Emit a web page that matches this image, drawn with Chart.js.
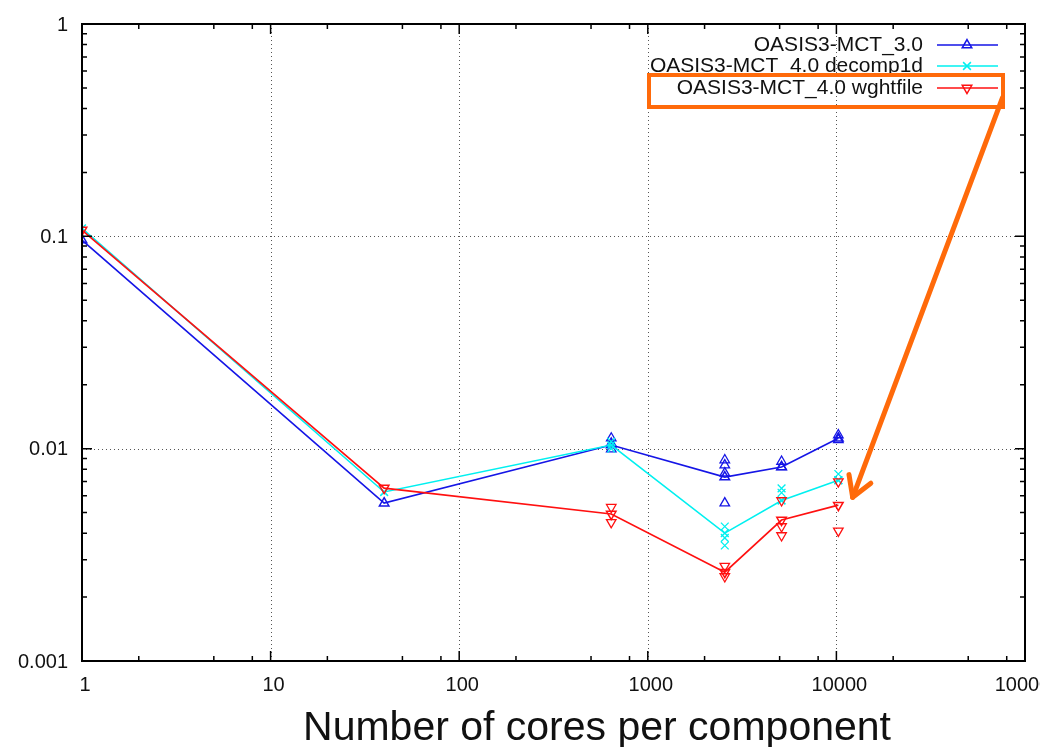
<!DOCTYPE html>
<html><head><meta charset="utf-8">
<script src="https://cdn.jsdelivr.net/npm/chart.js@4/dist/chart.umd.min.js"></script>
<style>html,body{margin:0;padding:0;background:#fff}canvas{display:block}</style>
</head><body>
<canvas id="c" width="1040" height="747"></canvas>
<script>
// ---- data ----
const cores = [1, 40, 640, 2560, 5120, 10240];
const seriesNames = ['OASIS3-MCT_3.0', 'OASIS3-MCT_4.0 decomp1d', 'OASIS3-MCT_4.0 wghtfile'];
const mct30 = [0.096, 0.00554, 0.0104, 0.00735, 0.00819, 0.0112];
const decomp1d = [0.109, 0.00625, 0.0104, 0.0040, 0.0057, 0.0071];
const wghtfile = [0.107, 0.00652, 0.00492, 0.00262, 0.00461, 0.00542];
// individual runs (extra points around the mean lines)
const mct30RunsX = [640, 640, 640, 2560, 2560, 2560, 2560, 5120, 5120, 10240, 10240];
const mct30RunsY = [0.0112, 0.0106, 0.00995, 0.00884, 0.00837, 0.00767, 0.00554, 0.0087, 0.0082, 0.0116, 0.0110];
const decompRunsX = [640, 640, 2560, 2560, 2560, 5120, 5120, 10240, 10240];
const decompRunsY = [0.0108, 0.0100, 0.0043, 0.0038, 0.0035, 0.0065, 0.0062, 0.0076, 0.0071];
const wghtRunsX = [640, 640, 2560, 2560, 5120, 5120, 5120, 10240, 10240];
const wghtRunsY = [0.0053, 0.0045, 0.0028, 0.0025, 0.0057, 0.0043, 0.0039, 0.0070, 0.0041];
const xTicks = [1, 10, 100, 1000, 10000, 100000];
const xTickLabels = ['1', '10', '100', '1000', '10000', '100000'];
const yTicks = [0.001, 0.01, 0.1, 1];
const yTickLabels = ['0.001', '0.01', '0.1', '1'];
const xTitle = 'Number of cores per component';

const colors = ['#1515e6', '#00f0f0', '#ff1010'];
const styles = [{s:'triangle', r:0}, {s:'crossRot', r:0}, {s:'triangle', r:180}];
const mains = [mct30, decomp1d, wghtfile];
const runsX = [mct30RunsX, decompRunsX, wghtRunsX];
const runsY = [mct30RunsY, decompRunsY, wghtRunsY];

const datasets = [];
for (let i = 0; i < 3; i++) {
  datasets.push({
    label: seriesNames[i],
    data: cores.map((x, k) => ({x, y: mains[i][k]})),
    borderColor: colors[i], backgroundColor: 'rgba(0,0,0,0)',
    borderWidth: 1.6, pointStyle: styles[i].s, pointRotation: styles[i].r,
    pointRadius: 5.5, pointBorderWidth: 1.5, pointBorderColor: colors[i],
    pointBackgroundColor: 'rgba(0,0,0,0)', tension: 0, order: 3 - i
  });
  datasets.push({
    label: seriesNames[i] + ' runs',
    data: runsX[i].map((x, k) => ({x, y: runsY[i][k]})),
    showLine: false, borderColor: colors[i], backgroundColor: 'rgba(0,0,0,0)',
    pointStyle: styles[i].s, pointRotation: styles[i].r,
    pointRadius: 5.5, pointBorderWidth: 1.3, pointBorderColor: colors[i],
    pointBackgroundColor: 'rgba(0,0,0,0)', order: 3 - i
  });
}

const FONT = '"Liberation Sans", Arial, sans-serif';

const frame = {
  id: 'frame',
  beforeDatasetsDraw(chart) {
    const {ctx, chartArea: a, scales: {x, y}} = chart;
    ctx.save();
    ctx.strokeStyle = '#555';
    ctx.lineWidth = 1;
    ctx.setLineDash([1, 3]);
    xTicks.forEach(v => {
      if (v === xTicks[0] || v === xTicks[xTicks.length - 1]) return;
      const px = Math.round(x.getPixelForValue(v)) + 0.5;
      ctx.beginPath(); ctx.moveTo(px, a.top); ctx.lineTo(px, a.bottom); ctx.stroke();
    });
    yTicks.forEach(v => {
      if (v === yTicks[0] || v === yTicks[yTicks.length - 1]) return;
      const py = Math.round(y.getPixelForValue(v)) + 0.5;
      ctx.beginPath(); ctx.moveTo(a.left, py); ctx.lineTo(a.right, py); ctx.stroke();
    });
    ctx.restore();
  },
  afterDatasetsDraw(chart) {
    const {ctx, chartArea: a, scales: {x, y}} = chart;
    ctx.save();
    ctx.strokeStyle = '#000';
    // ticks
    ctx.lineWidth = 1.5;
    const xMinor = [2, 5, 8];
    for (let d = 0; d < xTicks.length; d++) {
      const v = xTicks[d];
      const px = x.getPixelForValue(v);
      ctx.beginPath();
      ctx.moveTo(px, a.bottom); ctx.lineTo(px, a.bottom - 10);
      ctx.moveTo(px, a.top); ctx.lineTo(px, a.top + 10);
      ctx.stroke();
      if (d < xTicks.length - 1) xMinor.forEach(m => {
        const mx = x.getPixelForValue(v * m);
        ctx.beginPath();
        ctx.moveTo(mx, a.bottom); ctx.lineTo(mx, a.bottom - 5);
        ctx.moveTo(mx, a.top); ctx.lineTo(mx, a.top + 5);
        ctx.stroke();
      });
    }
    for (let d = 0; d < yTicks.length; d++) {
      const v = yTicks[d];
      const py = y.getPixelForValue(v);
      ctx.beginPath();
      ctx.moveTo(a.left, py); ctx.lineTo(a.left + 10, py);
      ctx.moveTo(a.right, py); ctx.lineTo(a.right - 10, py);
      ctx.stroke();
      if (d < yTicks.length - 1) for (let m = 2; m <= 9; m++) {
        const my = y.getPixelForValue(v * m);
        ctx.beginPath();
        ctx.moveTo(a.left, my); ctx.lineTo(a.left + 5, my);
        ctx.moveTo(a.right, my); ctx.lineTo(a.right - 5, my);
        ctx.stroke();
      }
    }
    // frame
    ctx.lineWidth = 2;
    ctx.strokeRect(a.left, a.top, a.right - a.left, a.bottom - a.top);
    // tick labels
    ctx.fillStyle = '#111';
    ctx.font = '20px ' + FONT;
    ctx.textAlign = 'center'; ctx.textBaseline = 'middle';
    xTicks.forEach((v, i) => ctx.fillText(xTickLabels[i], x.getPixelForValue(v) + 3, a.bottom + 24));
    ctx.textAlign = 'right';
    yTicks.forEach((v, i) => ctx.fillText(yTickLabels[i], a.left - 14, y.getPixelForValue(v) + 1));
    // axis title
    ctx.font = '41px ' + FONT;
    ctx.textAlign = 'center'; ctx.textBaseline = 'alphabetic';
    ctx.fillText(xTitle, 597, 740);
    // legend
    ctx.font = '21px ' + FONT;
    ctx.textBaseline = 'middle';
    const rows = [45, 66, 88];
    for (let i = 0; i < 3; i++) {
      const ry = a.top + rows[i] - 24;
      ctx.textAlign = 'right';
      ctx.fillStyle = '#111';
      ctx.fillText(seriesNames[i], a.right - 102, ry);
      ctx.strokeStyle = colors[i]; ctx.lineWidth = 1.6;
      ctx.beginPath(); ctx.moveTo(a.right - 88, ry); ctx.lineTo(a.right - 27, ry); ctx.stroke();
      ctx.fillStyle = 'rgba(0,0,0,0)';
      ctx.lineWidth = 1.5;
      Chart.helpers.drawPoint(ctx, {pointStyle: styles[i].s, rotation: styles[i].r, radius: 5.5, borderWidth: 1.5},
        a.right - 58, ry);
    }
    // orange annotation: box around third legend entry and arrow to the wghtfile point
    ctx.strokeStyle = '#ff6a0a';
    ctx.lineWidth = 4;
    ctx.strokeRect(a.left + 567, a.top + 51, 354, 32);
    const tipX = x.getPixelForValue(12200), tipY = y.getPixelForValue(0.0059);
    const sX = x.getPixelForValue(76000), sY = y.getPixelForValue(0.45);
    ctx.lineWidth = 5; ctx.lineCap = 'round'; ctx.lineJoin = 'round';
    ctx.beginPath(); ctx.moveTo(sX, sY); ctx.lineTo(tipX, tipY); ctx.stroke();
    const ang = Math.atan2(sY - tipY, sX - tipX);
    const L = 23;
    ctx.beginPath();
    ctx.moveTo(tipX + L * Math.cos(ang - 0.52), tipY + L * Math.sin(ang - 0.52));
    ctx.lineTo(tipX, tipY);
    ctx.lineTo(tipX + L * Math.cos(ang + 0.55), tipY + L * Math.sin(ang + 0.55));
    ctx.stroke();
    ctx.restore();
  }
};

new Chart(document.getElementById('c'), {
  type: 'line',
  data: {datasets},
  options: {
    responsive: false, animation: false,
    layout: {padding: {left: 82, top: 24, right: 15, bottom: 86}},
    plugins: {legend: {display: false}, tooltip: {enabled: false}},
    scales: {
      x: {type: 'logarithmic', min: xTicks[0], max: xTicks[xTicks.length - 1], display: false},
      y: {type: 'logarithmic', min: yTicks[0], max: yTicks[yTicks.length - 1], display: false}
    }
  },
  plugins: [frame]
});
</script>
</body></html>
